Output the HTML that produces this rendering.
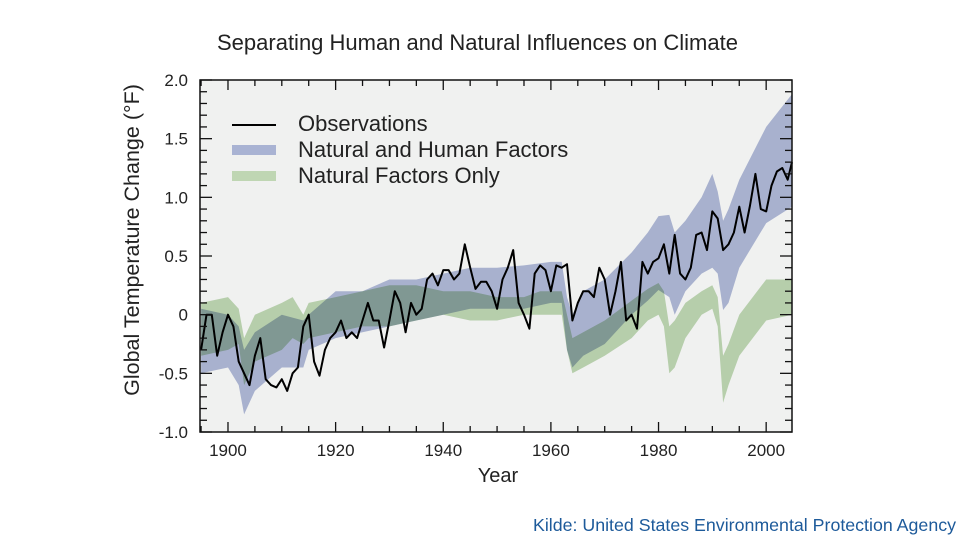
<!DOCTYPE html>
<html><head><meta charset="utf-8"><style>
body{margin:0;width:960px;height:540px;background:#fff;overflow:hidden;font-family:"Liberation Sans",sans-serif}
svg{display:block}
.band{mix-blend-mode:multiply}
</style></head><body>
<svg id="chart" width="960" height="540">
<text x="217" y="50" font-size="22" fill="#222">Separating Human and Natural Influences on Climate</text>
<rect x="200" y="80" width="592" height="352" fill="#f0f1f0"/>
<g id="bands"></g>
<g id="obs"></g>
<g id="ticks"></g>
<rect x="200" y="80" width="592" height="352" fill="none" stroke="#111" stroke-width="1.5"/>
<text transform="translate(139,240) rotate(-90)" text-anchor="middle" font-size="21.5" fill="#222">Global Temperature Change (°F)</text>
<text x="498" y="482" text-anchor="middle" font-size="20" fill="#222">Year</text>
<g>
<line x1="232" y1="125" x2="276" y2="125" stroke="#000" stroke-width="2"/>
<text x="298" y="131" font-size="22" fill="#222">Observations</text>
<rect x="232" y="145" width="44" height="10" fill="#a9b3d3"/>
<text x="298" y="157" font-size="22" fill="#222">Natural and Human Factors</text>
<rect x="232" y="171" width="44" height="10" fill="#bfd6b3"/>
<text x="298" y="183" font-size="22" fill="#222">Natural Factors Only</text>
</g>
<text x="956" y="531" text-anchor="end" font-size="17.8" fill="#1d5a9a">Kilde: United States Environmental Protection Agency</text>
</svg>
<script>
const obsYears=[1895,1896,1897,1898,1899,1900,1901,1902,1903,1904,1905,1906,1907,1908,1909,1910,1911,1912,1913,1914,1915,1916,1917,1918,1919,1920,1921,1922,1923,1924,1925,1926,1927,1928,1929,1930,1931,1932,1933,1934,1935,1936,1937,1938,1939,1940,1941,1942,1943,1944,1945,1946,1947,1948,1949,1950,1951,1952,1953,1954,1955,1956,1957,1958,1959,1960,1961,1962,1963,1964,1965,1966,1967,1968,1969,1970,1971,1972,1973,1974,1975,1976,1977,1978,1979,1980,1981,1982,1983,1984,1985,1986,1987,1988,1989,1990,1991,1992,1993,1994,1995,1996,1997,1998,1999,2000,2001,2002,2003,2004,2005];
const obsValues=[-0.3,0.0,0.0,-0.35,-0.15,0.0,-0.1,-0.4,-0.5,-0.6,-0.35,-0.2,-0.55,-0.6,-0.62,-0.55,-0.65,-0.5,-0.45,-0.1,0.0,-0.4,-0.52,-0.3,-0.2,-0.15,-0.05,-0.2,-0.15,-0.2,-0.05,0.1,-0.05,-0.05,-0.28,-0.05,0.2,0.1,-0.15,0.1,0.0,0.05,0.3,0.35,0.25,0.38,0.38,0.3,0.35,0.6,0.4,0.22,0.28,0.28,0.2,0.05,0.3,0.4,0.55,0.1,0.0,-0.12,0.35,0.42,0.38,0.2,0.42,0.4,0.43,-0.05,0.1,0.2,0.2,0.15,0.4,0.3,0.0,0.2,0.45,-0.05,0.0,-0.12,0.45,0.35,0.45,0.48,0.6,0.35,0.68,0.35,0.3,0.4,0.68,0.7,0.55,0.88,0.82,0.55,0.6,0.7,0.92,0.7,0.93,1.2,0.9,0.88,1.1,1.22,1.25,1.15,1.3];
const humanYears=[1895,1900,1902,1903,1905,1910,1914,1915,1920,1925,1930,1935,1940,1945,1950,1955,1960,1962,1963,1964,1966,1970,1975,1978,1980,1982,1983,1985,1988,1990,1991,1992,1993,1995,2000,2005];
const humanLow=[-0.5,-0.45,-0.6,-0.85,-0.65,-0.45,-0.45,-0.3,-0.2,-0.15,-0.1,-0.05,0.0,0.05,0.05,0.05,0.1,0.1,-0.3,-0.45,-0.35,-0.25,0.0,0.12,0.21,0.15,0.0,0.2,0.35,0.4,0.35,0.04,0.1,0.4,0.78,0.92];
const humanHigh=[0.05,0.0,-0.1,-0.3,-0.15,0.0,-0.05,0.0,0.2,0.2,0.3,0.3,0.35,0.4,0.4,0.42,0.45,0.45,0.15,0.0,0.2,0.3,0.53,0.7,0.84,0.85,0.7,0.8,1.0,1.2,1.05,0.8,0.9,1.15,1.6,1.88];
const naturalYears=[1895,1900,1902,1903,1905,1910,1912,1914,1915,1920,1925,1930,1935,1940,1945,1950,1955,1958,1962,1963,1964,1966,1970,1975,1978,1980,1981,1982,1983,1985,1988,1990,1991,1992,1993,1995,2000,2005];
const naturalLow=[-0.35,-0.3,-0.25,-0.6,-0.4,-0.3,-0.2,-0.25,-0.2,-0.15,-0.1,-0.1,-0.05,0.0,-0.05,-0.05,0.0,0.0,0.0,-0.3,-0.5,-0.45,-0.35,-0.2,-0.05,0.0,-0.1,-0.5,-0.45,-0.2,0.0,0.05,-0.1,-0.75,-0.6,-0.35,-0.05,0.0];
const naturalHigh=[0.1,0.15,0.05,-0.2,0.0,0.1,0.15,0.0,0.1,0.15,0.2,0.25,0.25,0.2,0.2,0.15,0.15,0.2,0.2,0.0,-0.2,-0.15,-0.05,0.12,0.22,0.27,0.2,-0.1,-0.05,0.1,0.2,0.25,0.15,-0.35,-0.25,0.0,0.3,0.3];
const yTickVals=[2.0,1.5,1.0,0.5,0,-0.5,-1.0];
const yTickLabels=["2.0","1.5","1.0","0.5","0","-0.5","-1.0"];
const xTickVals=[1900,1920,1940,1960,1980,2000];
const xTickLabels=["1900","1920","1940","1960","1980","2000"];

const X0=200,X1=792,Y0=80,Y1=432,XMIN=1894.8,XMAX=2004.8,YMIN=-1,YMAX=2;
const sx=v=>X0+(v-XMIN)/(XMAX-XMIN)*(X1-X0);
const sy=v=>Y1-(v-YMIN)/(YMAX-YMIN)*(Y1-Y0);
const NS="http://www.w3.org/2000/svg";
function mk(tag,parent){const e=document.createElementNS(NS,tag);parent.appendChild(e);return e;}
function clampX(x){return Math.min(X1,Math.max(X0,x));}
function bandPath(ys,lo,hi){
  let d="";
  ys.forEach((y,i)=>{d+=(i?"L":"M")+clampX(sx(y)).toFixed(1)+","+sy(hi[i]).toFixed(1);});
  for(let i=ys.length-1;i>=0;i--)d+="L"+clampX(sx(ys[i])).toFixed(1)+","+sy(lo[i]).toFixed(1);
  return d+"Z";
}
const bands=document.getElementById('bands');
const g1=mk('path',bands);
g1.setAttribute('d',bandPath(naturalYears,naturalLow,naturalHigh));
g1.setAttribute('fill','#c2dab6');g1.setAttribute('class','band');


const g2=mk('path',bands);
g2.setAttribute('d',bandPath(humanYears,humanLow,humanHigh));
g2.setAttribute('fill','#b3bcdb');g2.setAttribute('class','band');


const obs=document.getElementById('obs');
const ln=mk('polyline',obs);
ln.setAttribute('points',obsYears.map((y,i)=>clampX(sx(y)).toFixed(1)+","+sy(obsValues[i]).toFixed(1)).join(" "));
ln.setAttribute('fill','none');ln.setAttribute('stroke','#000');ln.setAttribute('stroke-width','2');ln.setAttribute('stroke-linejoin','round');


const tk=document.getElementById('ticks');
for(let k=-10;k<=20;k++){
  const v=k/10,y=sy(v),len=(k%5===0)?12:7;
  const a=mk('line',tk);a.setAttribute('x1',X0);a.setAttribute('x2',X0+len);a.setAttribute('y1',y);a.setAttribute('y2',y);a.setAttribute('stroke','#111');a.setAttribute('stroke-width','1.3');
  const b=mk('line',tk);b.setAttribute('x1',X1);b.setAttribute('x2',X1-len);b.setAttribute('y1',y);b.setAttribute('y2',y);b.setAttribute('stroke','#111');b.setAttribute('stroke-width','1.3');
}
for(let yr=1895;yr<=2005;yr+=5){
  const x=sx(yr);if(x<X0||x>X1)continue;const len=(yr%20===0)?10:6;
  const a=mk('line',tk);a.setAttribute('x1',x);a.setAttribute('x2',x);a.setAttribute('y1',Y1);a.setAttribute('y2',Y1-len);a.setAttribute('stroke','#111');a.setAttribute('stroke-width','1.3');
  const b=mk('line',tk);b.setAttribute('x1',x);b.setAttribute('x2',x);b.setAttribute('y1',Y0);b.setAttribute('y2',Y0+len);b.setAttribute('stroke','#111');b.setAttribute('stroke-width','1.3');
}
yTickVals.forEach((v,i)=>{
  const t=mk('text',tk);t.setAttribute('x',188);t.setAttribute('y',sy(v)+6);t.setAttribute('text-anchor','end');t.setAttribute('font-size','17');t.setAttribute('fill','#222');
  t.textContent=yTickLabels[i];
  
  
});
xTickVals.forEach((v,i)=>{
  const t=mk('text',tk);t.setAttribute('x',sx(v));t.setAttribute('y',456);t.setAttribute('text-anchor','middle');t.setAttribute('font-size','17');t.setAttribute('fill','#222');
  t.textContent=xTickLabels[i];
  
  
});
</script>
</body></html>
